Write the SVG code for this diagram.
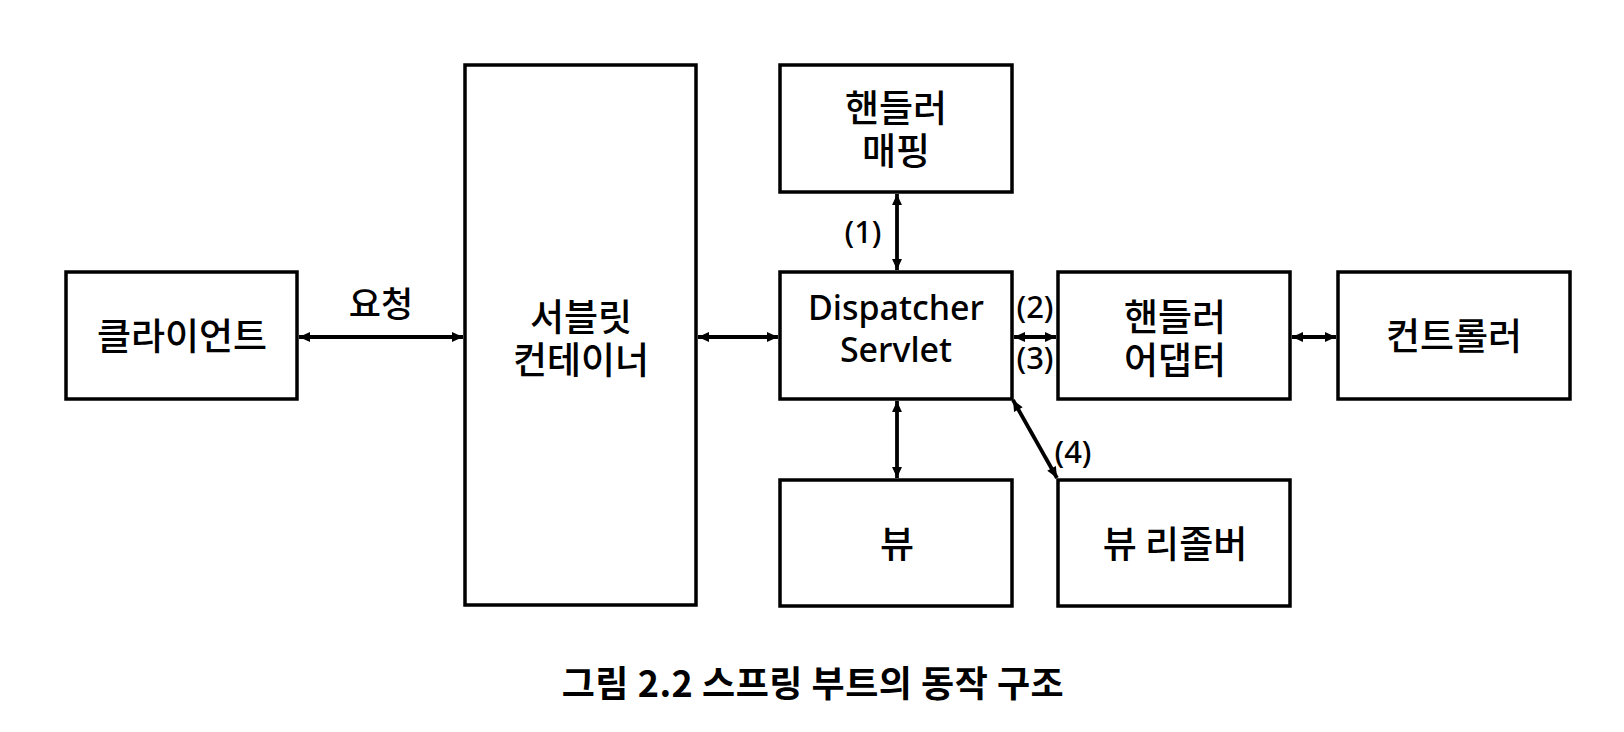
<svg xmlns="http://www.w3.org/2000/svg" width="1624" height="732" viewBox="0 0 1624 732">
<style>
.box{fill:#fff;stroke:#000;stroke-width:3.5}
.t{font-family:"Noto Sans CJK KR","Noto Sans",sans-serif;font-size:37px;fill:#000;text-anchor:middle;font-weight:500}
.lat{font-family:"Noto Sans","Noto Sans CJK KR",sans-serif;font-size:34px;fill:#000;text-anchor:middle;font-weight:500}
.lbl{font-family:"Noto Sans","Noto Sans CJK KR",sans-serif;font-size:31px;fill:#000;text-anchor:middle;font-weight:500}
.cap{font-family:"Noto Sans CJK KR",sans-serif;font-size:36px;font-weight:bold;fill:#000;text-anchor:middle;letter-spacing:0.5px}
.c{stroke:#000;stroke-width:3.8;fill:none;marker-start:url(#ah);marker-end:url(#ah)}
</style>
<defs>
<marker id="ah" viewBox="0 0 10 10" refX="10" refY="5" markerWidth="13" markerHeight="11" markerUnits="userSpaceOnUse" orient="auto-start-reverse"><path d="M0,0.5 L10,5 L0,9.5 z" fill="#000"/></marker>
</defs>
<rect width="1624" height="732" fill="#fff"/>
<g id="client"><rect class="box" x="66" y="272" width="231" height="127"/><text class="t" x="182" y="350">클라이언트</text></g>
<g id="servlet-container"><rect class="box" x="465" y="65" width="231" height="540"/><text class="t" x="581" y="331">서블릿<tspan x="581" dy="43">컨테이너</tspan></text></g>
<g id="handler-mapping"><rect class="box" x="780" y="65" width="232" height="127"/><text class="t" x="896" y="122">핸들러<tspan x="896" dy="43">매핑</tspan></text></g>
<g id="dispatcher"><rect class="box" x="780" y="272" width="232" height="127"/><text class="lat" x="896" y="320">Dispatcher<tspan x="896" dy="42">Servlet</tspan></text></g>
<g id="handler-adapter"><rect class="box" x="1058" y="272" width="232" height="127"/><text class="t" x="1175" y="331">핸들러<tspan x="1175" dy="43">어댑터</tspan></text></g>
<g id="controller"><rect class="box" x="1338" y="272" width="232" height="127"/><text class="t" x="1454" y="350">컨트롤러</text></g>
<g id="view"><rect class="box" x="780" y="480" width="232" height="126"/><text class="t" x="897" y="558">뷰</text></g>
<g id="view-resolver"><rect class="box" x="1058" y="480" width="232" height="126"/><text class="t" x="1175" y="558">뷰 리졸버</text></g>
<g id="connectors">
<line class="c" x1="299" y1="337" x2="463" y2="337"/>
<line class="c" x1="698" y1="337" x2="778" y2="337"/>
<line class="c" x1="1014" y1="337" x2="1056" y2="337"/>
<line class="c" x1="1292" y1="337" x2="1336" y2="337"/>
<line class="c" x1="897" y1="194" x2="897" y2="270"/>
<line class="c" x1="897" y1="401" x2="897" y2="478"/>
<line class="c" x1="1013" y1="400" x2="1057" y2="478"/>
<text class="t" x="381" y="317" style="font-size:35px">요청</text>
<text class="lbl" x="863" y="243">(1)</text>
<text class="lbl" x="1035" y="318">(2)</text>
<text class="lbl" x="1035" y="369">(3)</text>
<text class="lbl" x="1073" y="463">(4)</text>
</g>
<text class="cap" x="813" y="697">그림 2.2 스프링 부트의 동작 구조</text>
</svg>
